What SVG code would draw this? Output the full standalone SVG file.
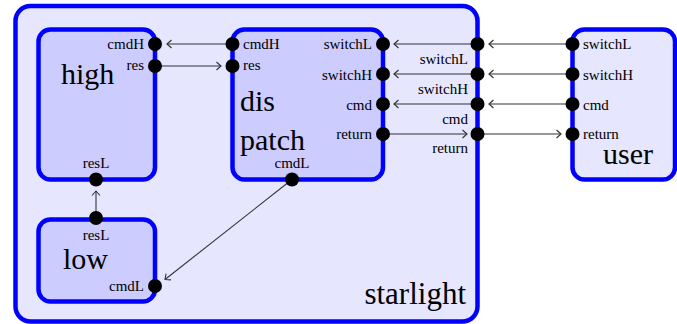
<svg xmlns="http://www.w3.org/2000/svg" width="677" height="324" viewBox="0 0 677 324">
<defs>
<style>
.outer{fill:#e6e6ff;stroke:#0000ff;stroke-width:4.5}
.inner{fill:#ccccff;stroke:#0000ff;stroke-width:4.5}
.port{fill:#000}
.pl{font-family:"Liberation Serif","Times New Roman",serif;font-size:15px;fill:#000}
.big{font-family:"Liberation Serif","Times New Roman",serif;font-size:30px;fill:#000}
.con{stroke:#333;stroke-width:1.1;fill:none;marker-end:url(#arr)}
</style>
<marker id="arr" markerUnits="userSpaceOnUse" markerWidth="12" markerHeight="12" refX="0" refY="0" viewBox="-6 -6 12 12" orient="auto" overflow="visible">
<path d="M-4.5,-4 Q-1.2,-1 0,0 Q-1.2,1 -4.5,4" fill="none" stroke="#333" stroke-width="1.1"/>
</marker>
</defs>
<g id="starlight">
<rect class="outer" x="15.5" y="6" width="462" height="315.5" rx="15"/>
<text class="big" x="466" y="304" text-anchor="end" style="font-size:31px">starlight</text>
</g>
<g id="user">
<rect class="outer" x="572.5" y="29.5" width="102.5" height="150" rx="12"/>
<text class="big" x="603" y="164">user</text>
</g>
<g id="high">
<rect class="inner" x="38.5" y="29.5" width="116.5" height="150" rx="12"/>
<text class="big" x="61" y="84">high</text>
</g>
<g id="dispatch">
<rect class="inner" x="232.5" y="29.5" width="150.5" height="150" rx="12"/>
<text class="big" x="240" y="111">dis</text>
<text class="big" x="240" y="150">patch</text>
</g>
<g id="low">
<rect class="inner" x="38.5" y="219.5" width="116.5" height="82" rx="12"/>
<text class="big" x="63" y="269">low</text>
</g>
<g id="connectors">
<line class="con" x1="232.5" y1="44" x2="167" y2="44"/>
<line class="con" x1="155" y1="66" x2="221" y2="66"/>
<line class="con" x1="477.5" y1="44" x2="394" y2="44"/>
<line class="con" x1="477.5" y1="74" x2="394" y2="74"/>
<line class="con" x1="477.5" y1="104" x2="394" y2="104"/>
<line class="con" x1="383" y1="134" x2="467" y2="134"/>
<line class="con" x1="572.5" y1="44" x2="489" y2="44"/>
<line class="con" x1="572.5" y1="74" x2="489" y2="74"/>
<line class="con" x1="572.5" y1="104" x2="489" y2="104"/>
<line class="con" x1="477.5" y1="134" x2="561" y2="134"/>
<line class="con" x1="96" y1="218" x2="96" y2="191"/>
<line class="con" x1="292" y1="179.5" x2="165" y2="279.5"/>
</g>
<g id="ports">
<circle class="port" cx="155" cy="44" r="7"/>
<circle class="port" cx="155" cy="66" r="7"/>
<circle class="port" cx="96" cy="179.5" r="7"/>
<circle class="port" cx="232.5" cy="44" r="7"/>
<circle class="port" cx="232.5" cy="66" r="7"/>
<circle class="port" cx="383" cy="44" r="7"/>
<circle class="port" cx="383" cy="74" r="7"/>
<circle class="port" cx="383" cy="104" r="7"/>
<circle class="port" cx="383" cy="134" r="7"/>
<circle class="port" cx="292" cy="179.5" r="7"/>
<circle class="port" cx="477.5" cy="44" r="7"/>
<circle class="port" cx="477.5" cy="74" r="7"/>
<circle class="port" cx="477.5" cy="104" r="7"/>
<circle class="port" cx="477.5" cy="134" r="7"/>
<circle class="port" cx="572.5" cy="44" r="7"/>
<circle class="port" cx="572.5" cy="74" r="7"/>
<circle class="port" cx="572.5" cy="104" r="7"/>
<circle class="port" cx="572.5" cy="134" r="7"/>
<circle class="port" cx="96" cy="218" r="7"/>
<circle class="port" cx="155" cy="286" r="7"/>
</g>
<g id="port-labels">
<text class="pl" x="144" y="49" text-anchor="end">cmdH</text>
<text class="pl" x="144" y="70" text-anchor="end">res</text>
<text class="pl" x="96" y="168" text-anchor="middle">resL</text>
<text class="pl" x="243" y="49">cmdH</text>
<text class="pl" x="243" y="70">res</text>
<text class="pl" x="372" y="49" text-anchor="end">switchL</text>
<text class="pl" x="372" y="80" text-anchor="end">switchH</text>
<text class="pl" x="372" y="110" text-anchor="end">cmd</text>
<text class="pl" x="372" y="139" text-anchor="end">return</text>
<text class="pl" x="292" y="168" text-anchor="middle">cmdL</text>
<text class="pl" x="468" y="64" text-anchor="end">switchL</text>
<text class="pl" x="468" y="94" text-anchor="end">switchH</text>
<text class="pl" x="468" y="124" text-anchor="end">cmd</text>
<text class="pl" x="468" y="153" text-anchor="end">return</text>
<text class="pl" x="583" y="49">switchL</text>
<text class="pl" x="583" y="80">switchH</text>
<text class="pl" x="583" y="110">cmd</text>
<text class="pl" x="583" y="139">return</text>
<text class="pl" x="96" y="240" text-anchor="middle">resL</text>
<text class="pl" x="144" y="291" text-anchor="end">cmdL</text>
</g>
</svg>
